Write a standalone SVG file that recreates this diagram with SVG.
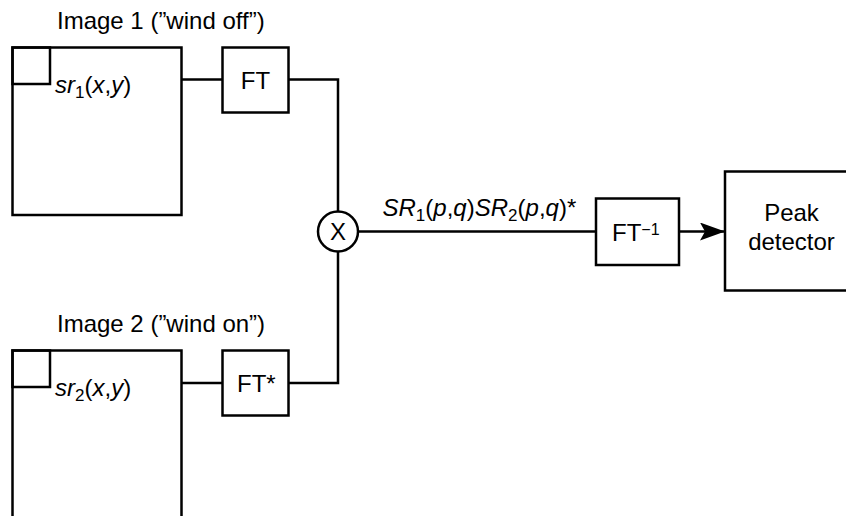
<svg xmlns="http://www.w3.org/2000/svg" width="846" height="516" viewBox="0 0 846 516">
<defs>
<style>
.s{fill:none;stroke:#000;stroke-width:2.5}
.t{font-family:"Liberation Sans",Arial,sans-serif;font-size:24px;fill:#000}
.i{font-style:italic}
</style>
<marker id="ah" markerWidth="26" markerHeight="18" refX="25" refY="9" orient="auto" markerUnits="userSpaceOnUse">
<path d="M0,0 L25,9 L0,18 L5,9 Z" fill="#000"/>
</marker>
</defs>
<rect width="846" height="516" fill="#fff"/>
<g id="image1">
<text class="t" x="57" y="29">Image 1 (”wind off”)</text>
<rect class="s" x="12.5" y="47.5" width="169" height="167.5"/>
<rect class="s" x="12.5" y="47.5" width="37.5" height="36.5"/>
<text class="t" x="55" y="93"><tspan class="i">sr</tspan><tspan font-size="17" dy="5">1</tspan><tspan dy="-5">(</tspan><tspan class="i">x</tspan>,<tspan class="i">y</tspan>)</text>
</g>
<g id="image2">
<text class="t" x="57" y="332">Image 2 (”wind on”)</text>
<path class="s" d="M12.5,520 V350.5 H181.5 V520"/>
<rect class="s" x="12.5" y="350.5" width="37.5" height="36.5"/>
<text class="t" x="55" y="396"><tspan class="i">sr</tspan><tspan font-size="17" dy="5">2</tspan><tspan dy="-5">(</tspan><tspan class="i">x</tspan>,<tspan class="i">y</tspan>)</text>
</g>
<g id="ft">
<rect class="s" x="222.5" y="47.5" width="66" height="65"/>
<text class="t" x="255.5" y="89" text-anchor="middle">FT</text>
</g>
<g id="ftstar">
<rect class="s" x="222.5" y="350.5" width="66" height="65"/>
<text class="t" x="237" y="392">FT*</text>
</g>
<g id="mult">
<circle class="s" cx="338" cy="231.5" r="20"/>
<text class="t" x="338" y="240" text-anchor="middle" font-size="23">X</text>
</g>
<g id="ftinv">
<rect class="s" x="596" y="198.5" width="83" height="66.5"/>
<text class="t" x="612" y="241">FT<tspan font-size="16" dy="-6">−1</tspan></text>
</g>
<g id="peak">
<rect class="s" x="725" y="171.5" width="133" height="119"/>
<text class="t" x="791.5" y="221" text-anchor="middle">Peak</text>
<text class="t" x="791.5" y="249.5" text-anchor="middle">detector</text>
</g>
<g id="connectors">
<path class="s" d="M181.5,79.5 H222.5"/>
<path class="s" d="M288.5,79.5 H338 V211.5"/>
<path class="s" d="M181.5,383 H222.5"/>
<path class="s" d="M288.5,383 H338 V251.5"/>
<path class="s" d="M358,231.5 H596"/>
<path class="s" d="M679,231.5 H725" marker-end="url(#ah)"/>
<text class="t" x="382.5" y="216"><tspan class="i">SR</tspan><tspan font-size="17" dy="5">1</tspan><tspan dy="-5">(</tspan><tspan class="i">p</tspan>,<tspan class="i">q</tspan>)<tspan class="i">SR</tspan><tspan font-size="17" dy="5">2</tspan><tspan dy="-5">(</tspan><tspan class="i">p</tspan>,<tspan class="i">q</tspan>)*</text>
</g>
</svg>
